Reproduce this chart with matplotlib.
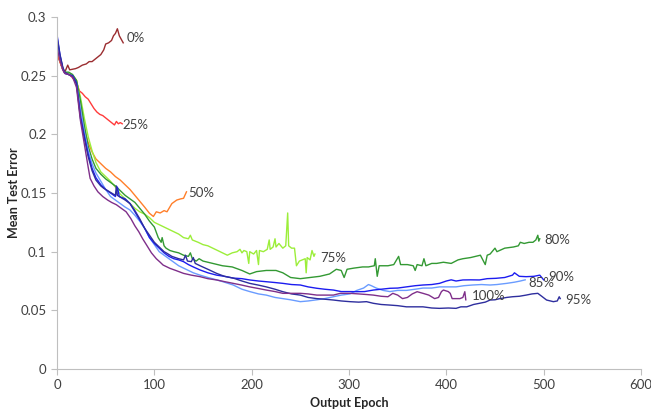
import matplotlib
matplotlib.use("Agg")
import matplotlib.pyplot as plt

# ---- data: (epoch, mean test error) ----
s0 = [(0,0.268),(3,0.262),(6,0.255),(8,0.253),(11,0.259),(13,0.255),(16,0.2555),(19,0.256),(22,0.257),
      (26,0.259),(30,0.260),(33,0.262),(36,0.262),(39,0.264),(42,0.266),(45,0.268),(48,0.272),(50,0.277),
      (53,0.278),(56,0.280),(58,0.284),(60,0.286),(62,0.290),(64,0.284),(66,0.281),(68,0.278)]
s25 = [(0,0.270),(3,0.262),(6,0.255),(8,0.252),(11,0.252),(14,0.250),(17,0.247),(20,0.244),(23,0.237),
       (26,0.235),(29,0.232),(32,0.230),(35,0.226),(38,0.222),(41,0.219),(44,0.217),(47,0.216),(50,0.214),
       (53,0.212),(56,0.210),(59,0.208),(61,0.211),(63,0.209),(65,0.210),(67,0.209)]
s50 = [(0,0.272),(3,0.262),(6,0.255),(8,0.252),(12,0.251),(16,0.250),(20,0.246),(24,0.228),(28,0.204),
       (32,0.193),(36,0.185),(40,0.179),(45,0.175),(50,0.171),(55,0.168),(60,0.164),(65,0.161),(70,0.157),
       (75,0.153),(80,0.148),(85,0.143),(90,0.138),(95,0.1327),(99,0.130),(102,0.134),(106,0.133),
       (110,0.135),(113,0.134),(118,0.141),(123,0.144),(127,0.145),(130,0.1455),(133,0.151)]
s75 = [(0,0.278),(3,0.265),(6,0.256),(8,0.253),(12,0.252),(16,0.250),(20,0.246),(24,0.232),(28,0.214),
       (32,0.198),(36,0.186),(40,0.176),(45,0.168),(50,0.164),(55,0.160),(60,0.155),(65,0.149),(70,0.145),
       (75,0.141),(80,0.137),(85,0.134),(90,0.132),(95,0.129),(100,0.125),(105,0.123),(110,0.121),
       (115,0.119),(120,0.117),(125,0.115),(130,0.112),(135,0.111),(137,0.114),(139,0.110),(145,0.108),
       (150,0.106),(155,0.105),(160,0.103),(165,0.101),(170,0.099),(175,0.097),(180,0.099),(185,0.100),
       (188,0.102),(190,0.099),(192,0.101),(195,0.100),(197,0.090),(198,0.100),(202,0.098),(205,0.101),
       (207,0.089),(208,0.101),(212,0.100),(216,0.102),(218,0.110),(219,0.102),(222,0.104),(224,0.111),
       (225,0.104),(228,0.107),(232,0.103),(235,0.105),(237,0.133),(238,0.105),(241,0.103),(244,0.103),
       (246,0.088),(249,0.092),(252,0.093),(255,0.094),(256,0.082),(257,0.095),(260,0.093),(262,0.101),
       (264,0.096),(265,0.098)]
s80 = [(0,0.280),(3,0.266),(6,0.256),(8,0.253),(12,0.253),(16,0.251),(20,0.246),(24,0.229),(28,0.208),
       (32,0.190),(36,0.179),(40,0.171),(45,0.166),(50,0.162),(55,0.159),(60,0.156),(65,0.152),(70,0.148),
       (75,0.145),(80,0.142),(85,0.137),(90,0.132),(95,0.126),(100,0.121),(104,0.112),(107,0.108),
       (108,0.112),(110,0.105),(112,0.103),(116,0.101),(120,0.100),(125,0.099),(130,0.097),(135,0.096),
       (137,0.099),(139,0.094),(143,0.092),(146,0.094),(150,0.092),(160,0.090),(170,0.088),(180,0.087),
       (190,0.084),(198,0.081),(205,0.083),(215,0.084),(225,0.084),(232,0.082),(240,0.078),(250,0.077),
       (260,0.078),(270,0.079),(280,0.081),(287,0.085),(292,0.084),(295,0.078),(298,0.085),(305,0.086),
       (314,0.087),(320,0.087),(326,0.088),(327,0.094),(329,0.079),(331,0.088),(340,0.088),(346,0.089),
       (351,0.096),(353,0.089),(360,0.089),(366,0.088),(368,0.084),(370,0.089),(375,0.088),(377,0.094),
       (379,0.088),(385,0.090),(390,0.090),(397,0.091),(405,0.090),(412,0.093),(417,0.094),(425,0.095),
       (430,0.096),(435,0.097),(440,0.089),(442,0.097),(445,0.098),(450,0.103),(452,0.100),(460,0.103),
       (469,0.104),(474,0.105),(476,0.108),(480,0.107),(485,0.108),(489,0.108),(492,0.110),(494,0.114),
       (495,0.109),(496,0.111)]
s85 = [(0,0.276),(3,0.265),(6,0.255),(8,0.252),(12,0.251),(16,0.249),(20,0.243),(24,0.222),(28,0.202),
       (32,0.186),(36,0.175),(40,0.167),(45,0.160),(50,0.153),(55,0.147),(60,0.144),(65,0.141),(70,0.138),
       (75,0.1355),(80,0.131),(85,0.126),(90,0.120),(95,0.112),(100,0.106),(105,0.100),(110,0.097),
       (115,0.094),(120,0.091),(125,0.088),(130,0.086),(135,0.084),(140,0.082),(147,0.080),(155,0.078),
       (164,0.076),(172,0.074),(181,0.0716),(190,0.068),(198,0.066),(207,0.064),(215,0.063),(224,0.061),
       (232,0.060),(240,0.059),(250,0.0574),(258,0.058),(267,0.059),(275,0.060),(284,0.0616),(292,0.063),
       (301,0.064),(308,0.067),(315,0.069),(320,0.072),(323,0.071),(328,0.069),(335,0.067),(342,0.066),
       (350,0.067),(359,0.067),(368,0.068),(376,0.069),(385,0.069),(393,0.070),(402,0.070),(410,0.070),
       (418,0.071),(427,0.0716),(436,0.072),(445,0.0716),(452,0.072),(462,0.073),(470,0.074),(476,0.075),
       (481,0.076)]
s90 = [(0,0.285),(3,0.268),(6,0.256),(8,0.252),(12,0.251),(16,0.250),(20,0.244),(24,0.216),(28,0.199),
       (32,0.183),(36,0.171),(40,0.163),(45,0.157),(50,0.153),(55,0.150),(60,0.147),(62,0.155),(64,0.147),
       (70,0.145),(75,0.141),(80,0.134),(85,0.127),(90,0.120),(95,0.112),(100,0.107),(105,0.103),
       (110,0.099),(115,0.096),(120,0.094),(125,0.093),(130,0.0915),(135,0.089),(140,0.087),(147,0.0844),
       (155,0.082),(164,0.080),(172,0.079),(181,0.0775),(190,0.077),(198,0.0759),(207,0.075),(215,0.0744),
       (224,0.0737),(232,0.073),(241,0.072),(250,0.0716),(258,0.070),(267,0.0688),(275,0.068),(284,0.0673),
       (292,0.066),(301,0.066),(308,0.0659),(316,0.066),(325,0.0673),(333,0.068),(342,0.0688),(350,0.069),
       (359,0.070),(368,0.071),(376,0.0716),(385,0.072),(393,0.073),(400,0.075),(405,0.076),(410,0.075),
       (417,0.0759),(425,0.076),(434,0.0759),(442,0.077),(451,0.0773),(460,0.078),(468,0.080),(470,0.082),
       (475,0.079),(482,0.0787),(490,0.079),(496,0.080),(498,0.078),(500,0.076)]
s95 = [(0,0.283),(3,0.268),(6,0.257),(8,0.253),(12,0.251),(16,0.249),(20,0.243),(24,0.214),(28,0.197),
       (32,0.181),(36,0.169),(40,0.161),(45,0.156),(48,0.154),(52,0.152),(56,0.150),(60,0.148),(61,0.156),
       (62,0.148),(66,0.146),(70,0.144),(75,0.141),(80,0.135),(85,0.128),(90,0.120),(95,0.114),(100,0.108),
       (105,0.104),(110,0.100),(113,0.0986),(118,0.096),(125,0.094),(130,0.093),(132,0.097),(134,0.092),
       (138,0.0915),(140,0.095),(142,0.090),(147,0.088),(155,0.085),(164,0.0815),(172,0.079),(181,0.0775),
       (190,0.075),(198,0.073),(207,0.0715),(215,0.070),(224,0.068),(232,0.0659),(241,0.064),(250,0.063),
       (258,0.061),(267,0.060),(275,0.0595),(284,0.0588),(292,0.058),(301,0.0574),(310,0.057),(318,0.0574),
       (325,0.056),(333,0.055),(342,0.0545),(350,0.054),(359,0.053),(368,0.053),(376,0.053),(385,0.052),
       (393,0.0517),(402,0.052),(410,0.0517),(415,0.053),(421,0.053),(428,0.055),(434,0.056),(440,0.057),
       (445,0.0588),(450,0.059),(455,0.060),(462,0.061),(468,0.0616),(475,0.062),(482,0.063),(488,0.064),
       (494,0.0645),(498,0.062),(503,0.0588),(507,0.058),(510,0.0574),(514,0.058),(516,0.0616),(517,0.060)]
s100 = [(0,0.274),(3,0.263),(6,0.255),(8,0.252),(12,0.251),(16,0.249),(20,0.240),(24,0.212),(28,0.192),
        (32,0.172),(34,0.1625),(38,0.156),(42,0.151),(47,0.147),(52,0.144),(56,0.142),(61,0.140),(66,0.137),
        (71,0.134),(76,0.128),(80,0.122),(84,0.117),(88,0.111),(92,0.1057),(97,0.099),(102,0.094),
        (106,0.091),(109,0.0886),(113,0.087),(116,0.0858),(122,0.084),(130,0.0815),(138,0.080),(147,0.0787),
        (155,0.077),(164,0.0759),(172,0.0745),(181,0.073),(190,0.0715),(198,0.070),(207,0.0686),(215,0.0673),
        (224,0.066),(232,0.0645),(241,0.0645),(250,0.0645),(258,0.064),(267,0.063),(275,0.063),(284,0.063),
        (291,0.0645),(301,0.0645),(310,0.064),(318,0.0635),(325,0.063),(333,0.062),(340,0.0616),(345,0.0645),
        (350,0.063),(355,0.060),(360,0.061),(365,0.064),(370,0.0659),(376,0.0645),(382,0.063),(388,0.060),
        (392,0.061),(395,0.066),(397,0.0673),(402,0.066),(404,0.0645),(406,0.060),(410,0.060),(414,0.060),
        (417,0.061),(419,0.0659),(420,0.059)]

names = ["0%", "25%", "50%", "75%", "80%", "85%", "90%", "95%", "100%"]
series = [s0, s25, s50, s75, s80, s85, s90, s95, s100]
colors = ["#9b2d30", "#ff3b3b", "#ff7f2a", "#9cee3a", "#339933", "#6a9cff", "#1c1cf0", "#2e2e9e", "#7f2f8a"]
# label anchor (epoch, error) for the inline series names
label_pos = [(71, 0.282), (67, 0.208), (135, 0.150), (270, 0.0946), (501, 0.110),
             (484, 0.0733), (505, 0.0784), (522, 0.0588), (426, 0.0622)]

plt.rcParams['font.family'] = ['Lato', 'DejaVu Sans']

fig = plt.figure(figsize=(6.51, 4.13), dpi=100)
ax = fig.add_axes([0.0876, 0.1065, 0.897, 0.8523])

for s, c in zip(series, colors):
    xs = [p[0] for p in s]
    ys = [p[1] for p in s]
    ax.plot(xs, ys, color=c, lw=1.0)

for (lx, ly), n in zip(label_pos, names):
    ax.text(lx, ly, n, fontsize=9.5, color="#404040", va="center", ha="left")

ax.set_xlim(0, 600)
ax.set_ylim(0, 0.3)
ax.set_xticks([0, 100, 200, 300, 400, 500, 600])
ax.set_yticks([0, 0.05, 0.1, 0.15, 0.2, 0.25, 0.3])
ax.set_yticklabels(["0", "0.05", "0.1", "0.15", "0.2", "0.25", "0.3"])
for sp in ["top", "right"]:
    ax.spines[sp].set_visible(False)
for sp in ["left", "bottom"]:
    ax.spines[sp].set_color("#bfbfbf")
ax.tick_params(axis="both", direction="out", length=4, color="#bfbfbf",
               labelsize=9.5, labelcolor="#404040")
ax.set_xlabel("Output Epoch", fontsize=9, fontweight="bold", color="#262626")
ax.set_ylabel("Mean Test Error", fontsize=9, fontweight="bold", color="#262626")
ax.xaxis.set_label_coords(0.5, -0.08)
ax.yaxis.set_label_coords(-0.064, 0.5)

fig.savefig("out.png", dpi=100)
